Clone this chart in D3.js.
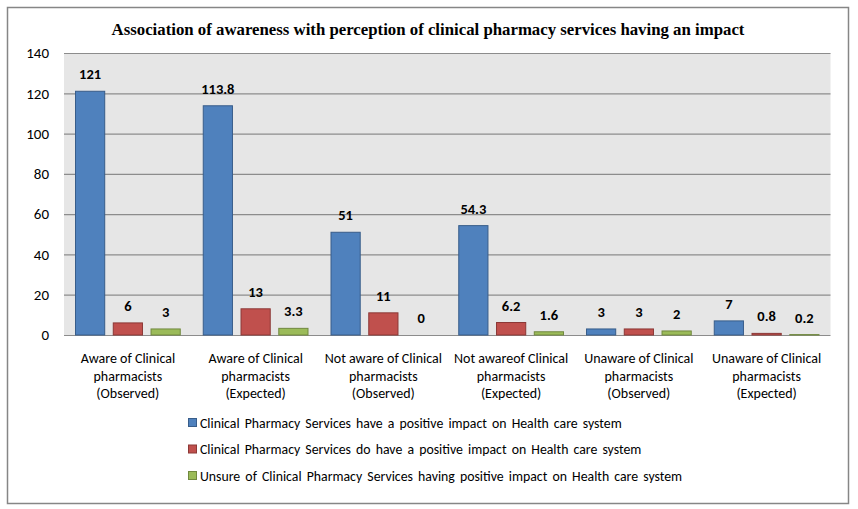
<!DOCTYPE html>
<html><head><meta charset="utf-8">
<script src="https://cdn.jsdelivr.net/npm/d3@7"></script>
<style>body{margin:0;background:#fff;} svg{display:block;}</style>
</head><body>
<svg id="c" width="858" height="509"></svg>
<script>
const categories = [
  ["Aware of Clinical","pharmacists","(Observed)"],
  ["Aware of Clinical","pharmacists","(Expected)"],
  ["Not aware of Clinical","pharmacists","(Observed)"],
  ["Not awareof Clinical","pharmacists","(Expected)"],
  ["Unaware of Clinical","pharmacists","(Observed)"],
  ["Unaware of Clinical","pharmacists","(Expected)"]
];
const seriesNames = [
  "Clinical Pharmacy Services have a positive impact on Health care system",
  "Clinical Pharmacy Services do have a positive impact on Health care system",
  "Unsure of Clinical Pharmacy Services having positive impact on Health care system"
];
const positiveValues = [121, 113.8, 51, 54.3, 3, 7];
const doHaveValues = [6, 13, 11, 6.2, 3, 0.8];
const unsureValues = [3, 3.3, 0, 1.6, 2, 0.2];
const yTicks = [0, 20, 40, 60, 80, 100, 120, 140];
const colors = ["#4f81bd", "#c0504d", "#9bbb59"];
const strokes = ["#385d8a", "#8c3836", "#71893f"];

const series = [positiveValues, doHaveValues, unsureValues];
const svg = d3.select("#c");
const font = "Calibri, Carlito, 'Open Sans', 'Liberation Sans', sans-serif";

svg.append("rect").attr("x",7.5).attr("y",7.5).attr("width",841).attr("height",496)
  .attr("fill","#fff").attr("stroke","#868686").attr("stroke-width",1.5);

const L = 64, R = 830.5, T = 53, B = 335;
const x0 = d3.scaleBand().domain(d3.range(categories.length)).range([L, R]).paddingInner(0).paddingOuter(0);
const x1 = d3.scaleBand().domain([0,1,2]).range([11, x0.bandwidth()-11]).paddingInner(0.2);
const y = d3.scaleLinear().domain([0,140]).range([B, T]);

svg.append("rect").attr("x",L).attr("y",T).attr("width",R-L).attr("height",B-T).attr("fill","#e6e6e6");

svg.append("g").selectAll("line").data(yTicks).join("line")
  .attr("x1",L).attr("x2",R).attr("y1",d=>y(d)+0.5).attr("y2",d=>y(d)+0.5)
  .attr("stroke","#8c8c8c").attr("stroke-width",1.2);

svg.append("g").selectAll("text").data(yTicks).join("text")
  .attr("x",49).attr("y",d=>y(d)).attr("dy","0.35em").attr("text-anchor","end")
  .attr("font-family",font).attr("font-size",15).attr("fill","#000").text(d=>d);

const g = svg.append("g");
series.forEach((vals, si) => {
  g.selectAll(".b"+si).data(vals).join("rect")
    .attr("x",(d,i)=>x0(i)+x1(si)+0.5)
    .attr("y",d=>y(d))
    .attr("width",x1.bandwidth()-1)
    .attr("height",d=>B-y(d))
    .attr("fill",colors[si]).attr("stroke",strokes[si]).attr("stroke-width",1);
  g.selectAll(".t"+si).data(vals).join("text")
    .attr("x",(d,i)=>x0(i)+x1(si)+x1.bandwidth()/2)
    .attr("y",d=>y(d)-12)
    .attr("text-anchor","middle")
    .attr("font-family",font).attr("font-size",14.5).attr("font-weight","bold").attr("fill","#000")
    .text(d=>d);
});

const cg = svg.append("g");
categories.forEach((lines,i)=>{
  lines.forEach((ln,j)=>{
    cg.append("text").attr("x",x0(i)+x0.bandwidth()/2).attr("y",363+j*17.5)
      .attr("text-anchor","middle").attr("font-family",font).attr("font-size",14)
      .attr("fill","#000").text(ln);
  });
});

svg.append("text").attr("x",428).attr("y",35).attr("text-anchor","middle")
  .attr("font-family","'Liberation Serif','Times New Roman',serif").attr("font-weight","bold")
  .attr("font-size",16.8).text("Association of awareness with perception of clinical pharmacy services having an impact");

const lg = svg.append("g");
seriesNames.forEach((n,i)=>{
  const yy = 423 + i*26.5;
  lg.append("rect").attr("x",188.5).attr("y",yy-4.5).attr("width",8).attr("height",8)
    .attr("fill",colors[i]).attr("stroke",strokes[i]).attr("stroke-width",1);
  lg.append("text").attr("x",200).attr("y",yy).attr("dy","0.35em")
    .attr("font-family",font).attr("font-size",13.8).attr("word-spacing","2px").attr("fill","#000").text(n);
});
</script>
</body></html>
